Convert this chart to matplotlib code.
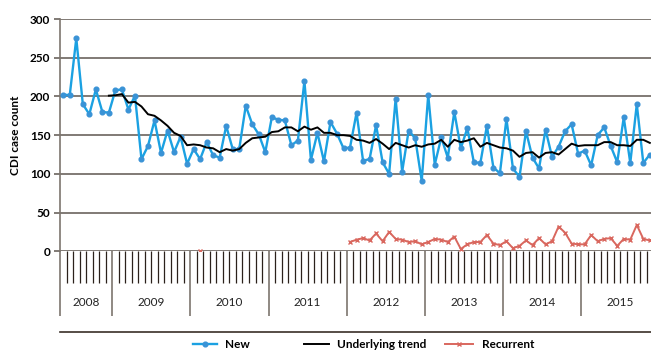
import numpy as np
import matplotlib
matplotlib.use("Agg")
import matplotlib.pyplot as plt
from matplotlib.lines import Line2D

plt.rcParams['font.family'] = ['Lato', 'DejaVu Sans']

# years on the axis and how many months each one covers
years = ["2008", "2009", "2010", "2011", "2012", "2013", "2014", "2015"]
months_in_year = [8, 12, 12, 12, 12, 12, 12, 12]

# monthly values, May 2008 onwards
new_cases = [202, 202, 275, 190, 177, 209, 180, 179,
             208, 209, 183, 201, 119, 136, 169, 127, 156, 128, 148, 113,
             132, 119, 141, 124, 121, 162, 132, 132, 188, 164, 151, 128,
             173, 170, 169, 137, 143, 220, 118, 153, 116, 167, 152, 133,
             134, 179, 117, 119, 163, 115, 100, 197, 103, 156, 146, 91,
             202, 112, 147, 121, 180, 133, 159, 115, 114, 162, 108, 101,
             171, 107, 96, 155, 121, 107, 157, 122, 135, 155, 164, 126,
             130, 111, 150, 160, 136, 115, 173, 114, 190, 114, 125]

trend = [None] * 7 + [201, 201.5, 203, 192, 193, 187, 177, 175, 169, 162, 153, 149, 137,
                      138, 137, 134, 133, 128, 132, 130, 132, 140, 146, 147, 148,
                      154, 155, 160, 160, 155, 161, 157, 160, 153, 153, 150, 150,
                      149, 144, 143, 140, 145, 139, 132, 140, 137, 134, 137, 135,
                      138, 139, 144, 135, 144, 141, 143, 146, 135, 140, 137, 134,
                      133, 130, 122, 127, 128, 121, 127, 128, 125, 132, 139, 136,
                      137, 137, 137, 141, 141, 137, 137, 136, 144, 144, 140]

recurrent = [None] * 21 + [1] + [None] * 22 + [
    12, 15, 17, 14, 23, 13, 25, 16, 15, 12, 13, 9,
    12, 16, 15, 12, 19, 3, 9, 12, 12, 21, 10, 8,
    13, 4, 7, 14, 8, 17, 9, 13, 32, 24, 10, 9,
    9, 21, 13, 16, 17, 7, 16, 15, 34, 16, 14]

y_ticks = [0, 50, 100, 150, 200, 250, 300]

to_arr = lambda v: np.array([np.nan if a is None else a for a in v], dtype=float)
x = np.arange(len(new_cases))
n_months = sum(months_in_year)

fig = plt.figure(figsize=(6.51, 3.52), dpi=100)
W, H = 651, 352
left, right, top, bottom = 60, 659.6, 19, 251.3
ax = fig.add_axes([left / W, 1 - bottom / H, (right - left) / W, (bottom - top) / H])

grid_col = '#5e564f'
for v in y_ticks:
    ax.axhline(v, color=grid_col, lw=1.1, zorder=1)

l_new, = ax.plot(x, to_arr(new_cases), color='#1ba1e2', lw=1.7, marker='o', ms=3.4,
                 mfc='#3a93d6', mec='#3a93d6', label='New', zorder=3)
l_trend, = ax.plot(x, to_arr(trend), color='black', lw=1.4, label='Underlying trend', zorder=4)
l_rec, = ax.plot(x, to_arr(recurrent), color='#d9675e', lw=1.4, marker='x', ms=3.5,
                 mew=1, label='Recurrent', zorder=3)

ax.set_xlim(-0.5, n_months - 0.5)
ax.set_ylim(0, 300)
ax.set_yticks(y_ticks)
ax.tick_params(axis='y', length=4, width=1.1, color=grid_col, labelsize=8.5, pad=3)
for lab in ax.get_yticklabels():
    lab.set_fontweight('bold')

# year boundaries long, month boundaries short
bounds = np.cumsum([0] + months_in_year) - 0.5
month_bounds = [b - 0.5 for b in range(n_months + 1) if (b - 0.5) not in bounds]
ax.set_xticks(bounds)
ax.set_xticks(month_bounds, minor=True)
ax.set_xticklabels([])
ax.tick_params(axis='x', which='major', length=47, width=1.2, color='#7d756e')
ax.tick_params(axis='x', which='minor', length=23, width=0.9, color='#2b211b')

for i, yr in enumerate(years):
    mid = (bounds[i] + bounds[i + 1]) / 2
    ax.text(mid, -0.222, yr, transform=ax.get_xaxis_transform(), ha='center',
            va='center', fontsize=8.5, color='#222222')

for s in ['top', 'right', 'bottom']:
    ax.spines[s].set_visible(False)
ax.spines['left'].set_color('#7d756e')
ax.spines['left'].set_linewidth(1.2)

ax.set_ylabel('CDI case count', fontsize=8.5, fontweight='bold', labelpad=6)

fig.add_artist(Line2D([left / W, 1], [1 - 332 / H] * 2, color='#3a2f28', lw=1.2))

# legend entries placed one by one, like the original
for h, xpos, hl in [(l_new, 193, 2.0), (l_trend, 304, 2.1), (l_rec, 445, 2.4)]:
    lg = fig.legend(handles=[h], loc='center left', bbox_to_anchor=(xpos / W, 1 - 345 / H),
                    frameon=False, fontsize=8.5, handlelength=hl, handletextpad=0.7,
                    borderpad=0, borderaxespad=0)
    for t in lg.get_texts():
        t.set_fontweight('bold')

fig.savefig('out.png', dpi=100)
